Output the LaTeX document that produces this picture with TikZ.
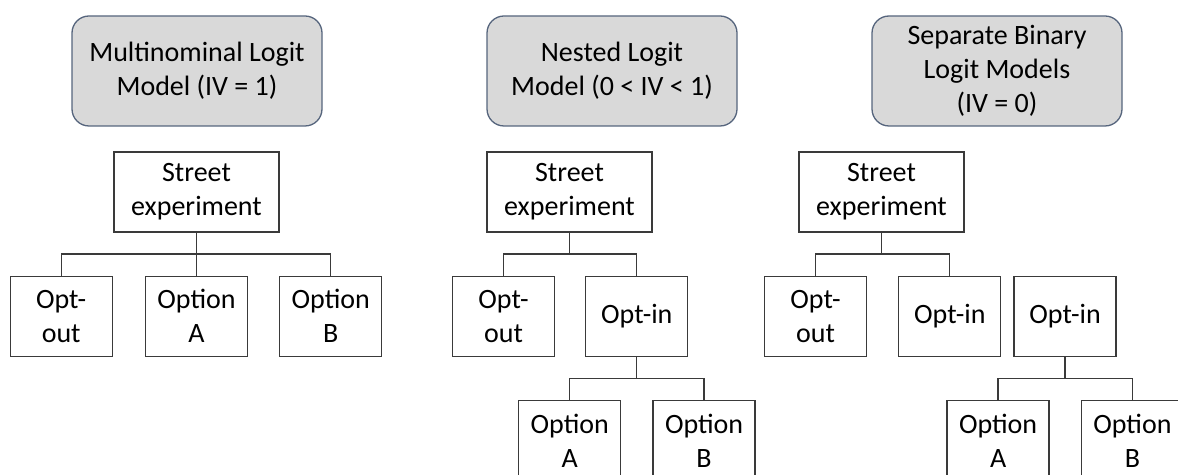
\documentclass[tikz,border=0pt]{standalone}
\usepackage{fontspec}
\setmainfont{Carlito}
\usepackage{tikz}
\usetikzlibrary{positioning}

\definecolor{headfill}{HTML}{D9D9D9}
\definecolor{headline}{HTML}{56657D}
\definecolor{boxline}{HTML}{3A3A3A}

\tikzset{
    header/.style={draw=headline, fill=headfill, line width=1.3pt, rounded corners=17pt,
        minimum width=250pt, minimum height=110pt, align=center,
        font=\fontsize{28}{34}\selectfont},
    stbox/.style={draw=boxline, line width=1.3pt, minimum width=165pt, minimum height=80pt,
        align=center, font=\fontsize{28}{34}\selectfont},
    optbox/.style={draw=boxline, line width=1.3pt, minimum width=102pt, minimum height=80pt,
        align=center, font=\fontsize{28}{34}\selectfont},
    conn/.style={draw=boxline, line width=1.3pt}
}

\begin{document}
\begin{tikzpicture}[x=1pt, y=1pt, node distance=43pt]
    \useasboundingbox (0,0) rectangle (1178,474);
    \clip (0,0) rectangle (1178,474);

    %Headers
    \node[header] (mnl) at (197,403) {Multinominal Logit\\Model (IV = 1)};
    \node[header] (nl)  at (612,403) {Nested Logit\\Model (0 < IV < 1)};
    \node[header] (bl)  at (997,403) {Separate Binary\\Logit Models\\(IV = 0)};

    %Multinominal tree
    \node[stbox] (st1) at (196.5,282) {Street\\experiment};
    \node[optbox] (oa1)[below=of st1] {Option\\A};
    \node[optbox] (oo1)[left=32pt of oa1] {Opt-\\out};
    \node[optbox] (ob1)[right=31pt of oa1] {Option\\B};

    %Nested tree
    \node[stbox] (st2) at (569.5,282) {Street\\experiment};
    \node[optbox] (oo2)[below=of st2, xshift=-66pt] {Opt-\\out};
    \node[optbox] (oi2)[right=30pt of oo2] {Opt-in};
    \node[optbox] (oa2)[below=of oi2, xshift=-67pt] {Option\\A};
    \node[optbox] (ob2)[right=31pt of oa2] {Option\\B};

    %Binary tree
    \node[stbox] (st3) at (881.5,282) {Street\\experiment};
    \node[optbox] (oo3)[below=of st3, xshift=-66pt] {Opt-\\out};
    \node[optbox] (oi3)[right=31pt of oo3] {Opt-in};
    \node[optbox] (oj3)[right=12pt of oi3] {Opt-in};
    \node[optbox] (oa3)[below=of oj3, xshift=-67pt] {Option\\A};
    \node[optbox] (ob3)[right=31pt of oa3] {Option\\B};

    %Lines
    \foreach \c in {oo1,oa1,ob1}
        \draw[conn] (st1.south) -- ++(0,-21.5) -| (\c.north);
    \foreach \c in {oo2,oi2}
        \draw[conn] (st2.south) -- ++(0,-21.5) -| (\c.north);
    \foreach \c in {oa2,ob2}
        \draw[conn] (oi2.south) -- ++(0,-21.5) -| (\c.north);
    \foreach \c in {oo3,oi3}
        \draw[conn] (st3.south) -- ++(0,-21.5) -| (\c.north);
    \foreach \c in {oa3,ob3}
        \draw[conn] (oj3.south) -- ++(0,-21.5) -| (\c.north);
\end{tikzpicture}
\end{document}
